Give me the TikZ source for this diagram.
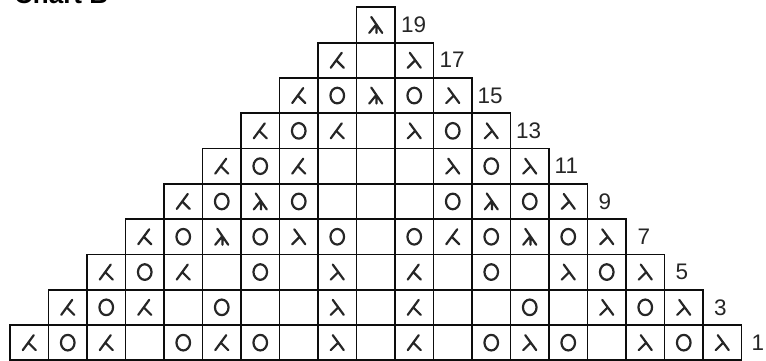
\documentclass[tikz,border=0pt]{standalone}
\usepackage{fontspec}
\setmainfont{Liberation Sans}
\begin{document}
\begin{tikzpicture}[x=1pt,y=-1pt,
  cellbox/.style={draw=black!95, line width=1.8pt, minimum width=38.5pt, minimum height=35.3pt, inner sep=0pt, outer sep=0pt},
  sym/.style={line width=2.2pt, line cap=round, line join=round, draw=black!85},
  rowlabel/.style={font=\fontsize{22.5}{24}\selectfont, text=black!85, anchor=west, inner sep=0pt},
  titletext/.style={font=\bfseries\fontsize{26}{28}\selectfont, anchor=base west, inner sep=0pt},
  pics/symL/.style={code={\draw[sym] (-4.5,-7.5) -- (6.5,7.5) (1,0) -- (-6.5,7.5);}},
  pics/symM/.style={code={\draw[sym] (4.5,-7.5) -- (-6.5,7.5) (-1,0) -- (6.5,7.5);}},
  pics/symT/.style={code={\draw[sym] (-4.5,-8) -- (6.5,8) (0.5,-0.5) -- (-6.5,8) (0.5,-0.5) -- (0.8,8);}},
  pics/symO/.style={code={\draw[sym] (0,0) ellipse [x radius=6.8, y radius=7.8];}},
  pics/symE/.style={code={}}
]
\useasboundingbox (0,0) rectangle (766,360);
\node[titletext] (title) at (14,3.5) {Chart B};
\foreach \k/\row/\lab/\off in {
  0/{M,O,M,E,O,M,O,E,L,E,M,E,O,L,O,E,L,O,L}/1/10,
  1/{M,O,M,E,O,E,E,L,E,M,E,E,O,E,L,O,L}/3/11,
  2/{M,O,M,E,O,E,L,E,M,E,O,E,L,O,L}/5/11,
  3/{M,O,T,O,L,O,E,O,M,O,T,O,L}/7/11.5,
  4/{M,O,T,O,E,E,E,O,T,O,L}/9/11,
  5/{M,O,M,E,E,E,L,O,L}/11/5.5,
  6/{M,O,M,E,L,O,L}/13/5.5,
  7/{M,O,T,O,L}/15/5.5,
  8/{M,E,L}/17/6,
  9/{T}/19/6}{
  \pgfmathsetmacro{\yc}{325-35.3*\k+17.65}
  \foreach \s [count=\i from 0] in \row {
    \pgfmathsetmacro{\xc}{10+38.5*(\k+\i)+19.25}
    \node[cellbox] (c\k-\i) at (\xc,\yc) {};
    \pic at (c\k-\i.center) {sym\s};
  }
  \pgfmathsetmacro{\xr}{10+38.5*(19-\k)+\off}
  \node[rowlabel] (lab\k) at (\xr,\yc) {\lab};
}
\end{tikzpicture}
\end{document}
